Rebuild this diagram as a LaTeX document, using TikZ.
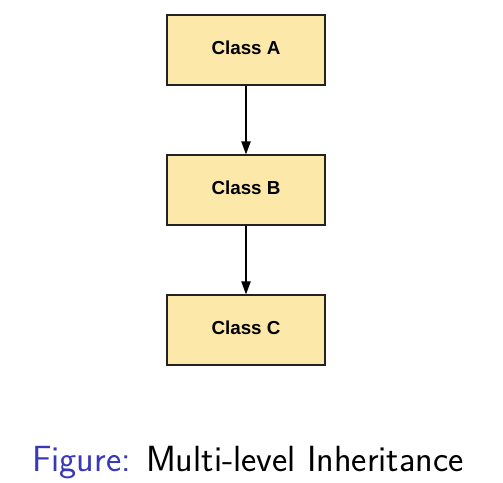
\documentclass[tikz,border=0pt]{standalone}
\usepackage{fontspec}
\newfontfamily\boxfont{Liberation Sans}
\usetikzlibrary{arrows.meta}

\begin{document}
\begin{tikzpicture}[x=0.5pt, y=-0.5pt, >={Triangle[width=4.6pt, length=6.5pt]}]

  % Colors
  \definecolor{boxfill}{HTML}{FCE8A8} % light yellow
  \definecolor{boxline}{HTML}{222222}
  \definecolor{figblue}{HTML}{3838B8}

  \tikzset{
    classbox/.style={draw=boxline, line width=0.6pt, fill=boxfill,
      minimum width=79pt, minimum height=35pt, inner sep=0pt, text depth=2.5pt,
      font=\boxfont\bfseries\fontsize{9.4}{11}\selectfont},
    inherit/.style={->, line width=0.75pt}
  }

  % fixed frame
  \useasboundingbox (0,0) rectangle (503,482);

  % Classes
  \node[classbox] (classA) at (246,50) {Class A};
  \node[classbox] (classB) at (246,190) {Class B};
  \node[classbox] (classC) at (246,330) {Class C};

  % Inheritance chain
  \draw[inherit] (classA) -- (classB);
  \draw[inherit] (classB) -- (classC);

  % Caption
  \node[font=\sffamily\fontsize{18.2}{22}\selectfont, anchor=base, inner sep=0pt] (caption) at (248,471.5)
    {\textcolor{figblue}{Figure:} Multi-level Inheritance};

\end{tikzpicture}
\end{document}
